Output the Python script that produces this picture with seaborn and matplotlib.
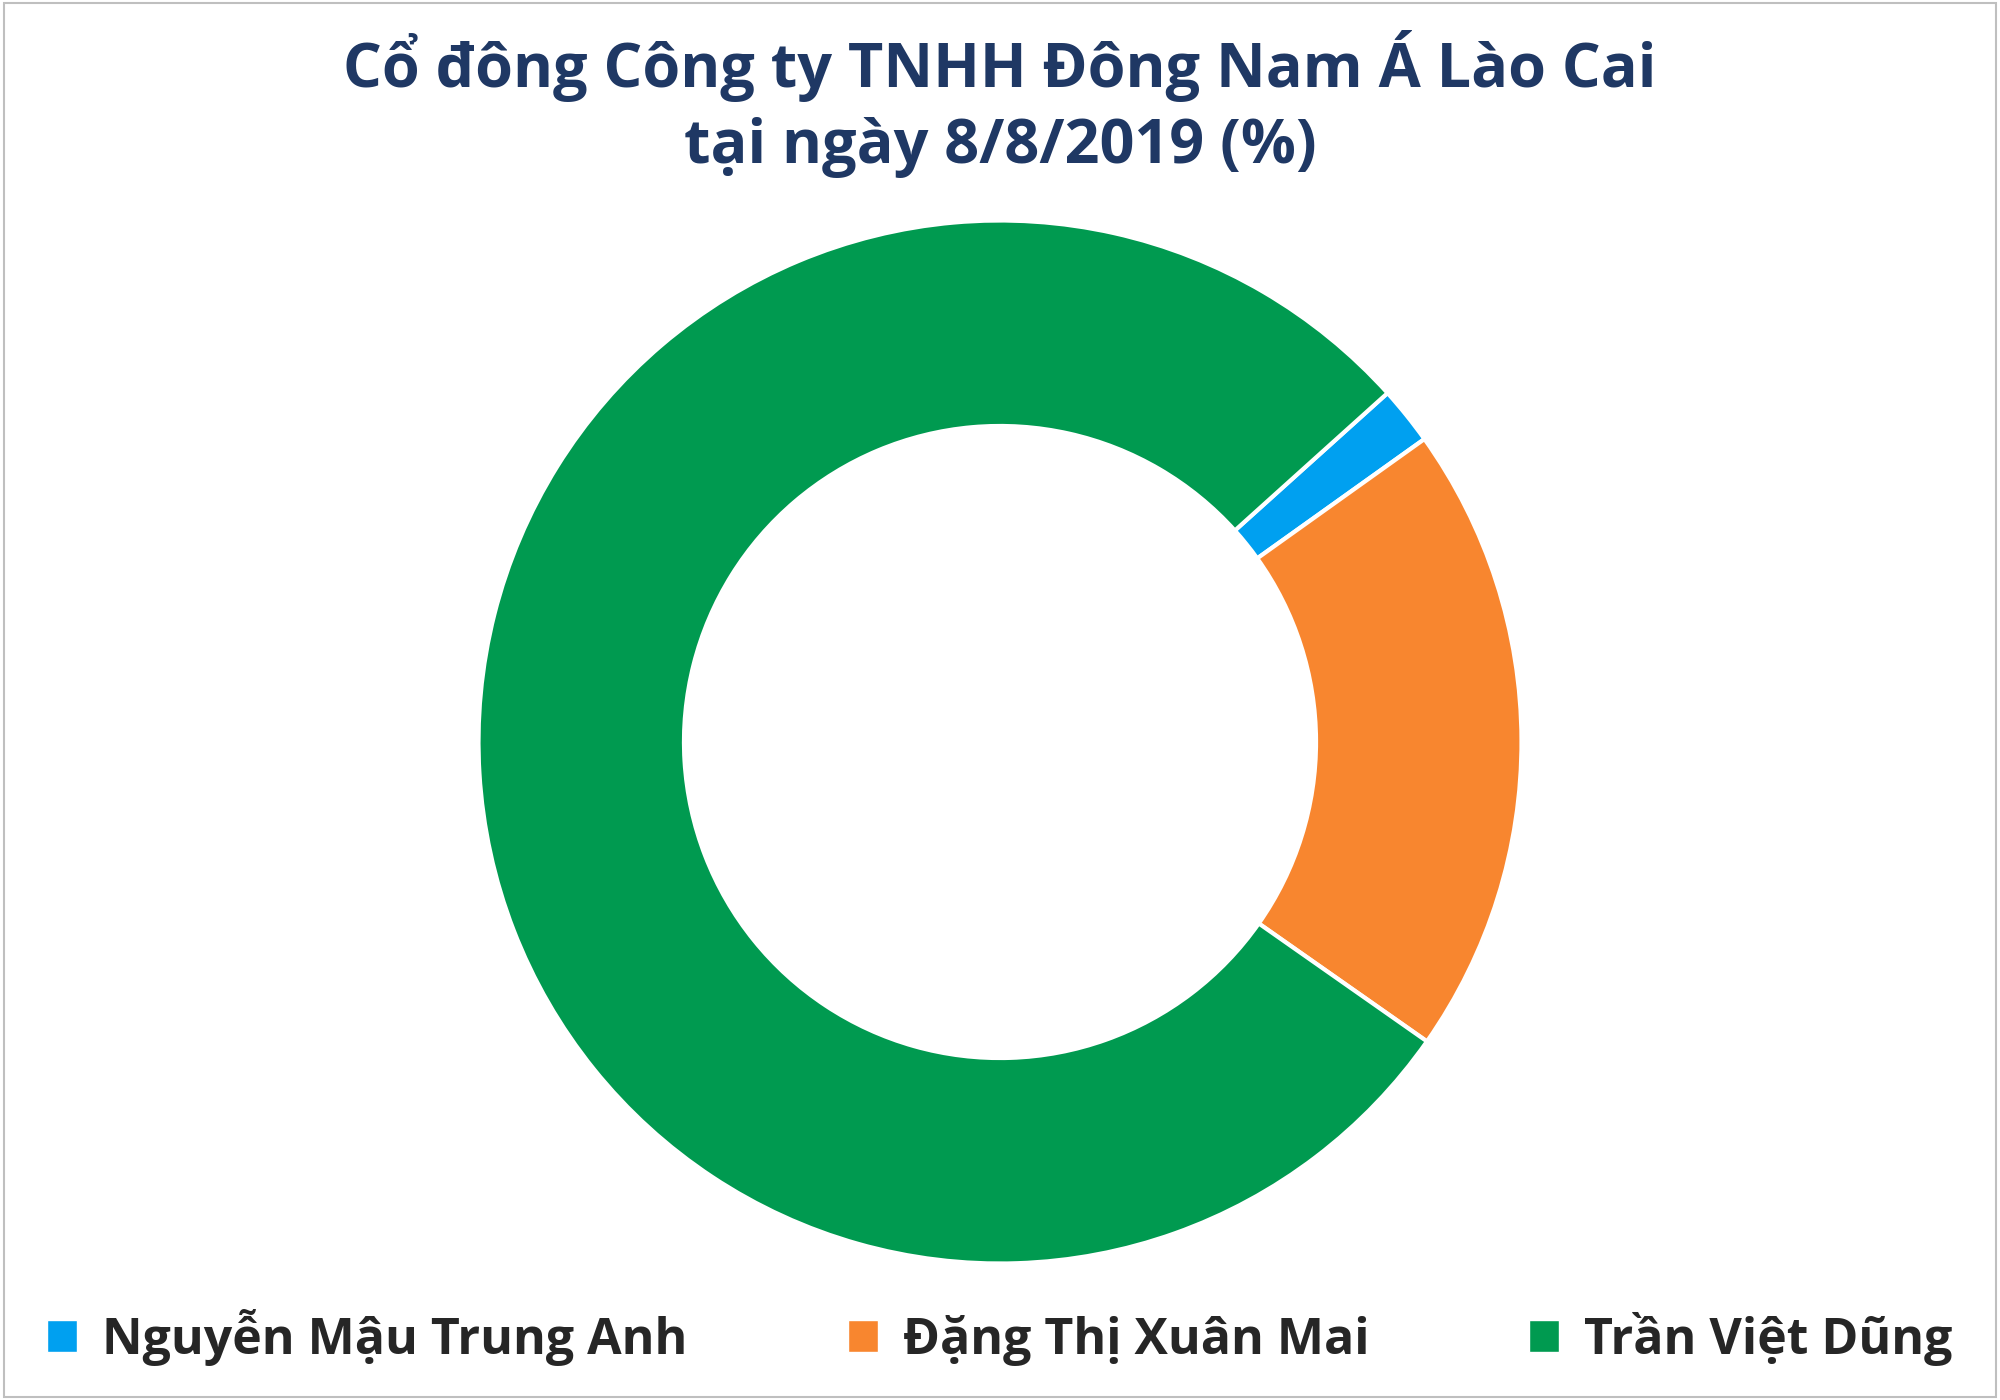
import matplotlib
matplotlib.use("Agg")
import matplotlib.pyplot as plt
import seaborn as sns
from matplotlib.patches import Patch, Rectangle

sns.set_theme(style="white")
plt.rcParams['font.family'] = ['Open Sans', 'DejaVu Sans']

names = ["Nguyễn Mậu Trung Anh", "Đặng Thị Xuân Mai", "Trần Việt Dũng"]
shares = [1.8, 19.6, 78.6]
colors = sns.color_palette(["#00A0F0", "#F8862F", "#009A50"])

fig = plt.figure(figsize=(20, 14), dpi=100)
fig.patches.append(Rectangle((0.002, 0.002), 0.996, 0.996, transform=fig.transFigure,
                             fill=False, edgecolor="#BFBFBF", linewidth=1.5))
w = 0.745 * 14 / 20
ax = fig.add_axes([0.5 - w / 2, 0.0975, w, 0.745])
ax.pie(shares, colors=colors, startangle=42, counterclock=False, radius=1,
       wedgeprops=dict(width=0.394, edgecolor="white", linewidth=3))
ax.set_aspect("equal")
ax.set_xlim(-1, 1); ax.set_ylim(-1, 1)
ax.axis("off")

fig.text(0.5, 0.953, "Cổ đông Công ty TNHH Đông Nam Á Lào Cai", ha="center", va="center",
         fontsize=44, fontweight="bold", color="#1F3864")
fig.text(0.5, 0.895, "tại ngày 8/8/2019 (%)", ha="center", va="center",
         fontsize=44, fontweight="bold", color="#1F3864")

handles = [Patch(facecolor=c, label=n) for c, n in zip(colors, names)]
fig.legend(handles=handles, loc="center", bbox_to_anchor=(0.5, 0.045), ncol=3, frameon=False,
           fontsize=36, prop=dict(weight="bold", size=36), handlelength=0.6, handleheight=0.6,
           columnspacing=3.2, handletextpad=0.5)
fig.savefig("out.png", dpi=100, facecolor="white")
